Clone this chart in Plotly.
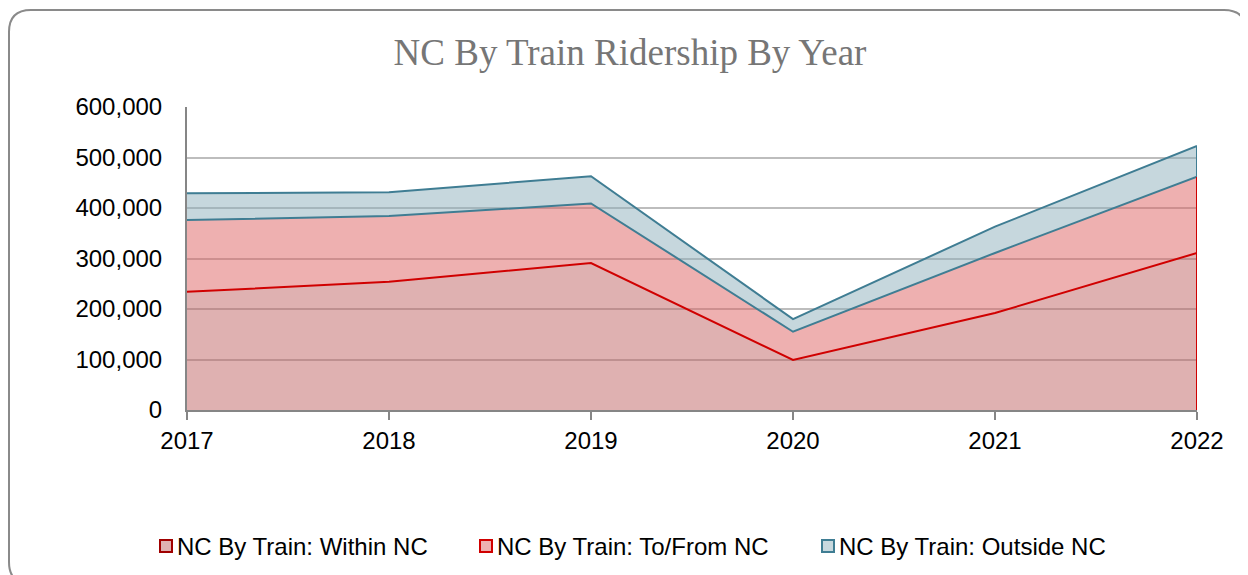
import plotly.graph_objects as go

years = [2017, 2018, 2019, 2020, 2021, 2022]
within_nc = [234000, 254000, 291000, 99000, 192000, 311000]
to_from_nc = [142000, 130000, 118000, 56000, 119000, 151000]
outside_nc = [53000, 47000, 54000, 25000, 52000, 61000]
series_names = ["NC By Train: Within NC", "NC By Train: To/From NC", "NC By Train: Outside NC"]
y_ticks = [0, 100000, 200000, 300000, 400000, 500000, 600000]

fills = ["rgba(191,99,99,0.5)", "rgba(221,97,97,0.5)", "rgba(141,175,187,0.5)"]
lines = ["#d00000", "#3f7d93", "#3f7d93"]
legend_fill = ["#dfb1b1", "#eeb0b0", "#c7d8de"]
legend_line = ["#a00000", "#d00000", "#3f7d93"]

fig = go.Figure()
for name, vals, fc, lc in zip(series_names, [within_nc, to_from_nc, outside_nc], fills, lines):
    fig.add_trace(go.Scatter(
        x=years, y=vals, name=name, mode="lines", stackgroup="one",
        fillcolor=fc, line=dict(color=lc, width=2), showlegend=False,
    ))

# vertical area borders at the last category (Excel draws the series outline)
last = years[-1]
c1 = within_nc[-1]
c2 = c1 + to_from_nc[-1]
c3 = c2 + outside_nc[-1]
fig.add_trace(go.Scatter(x=[last, last], y=[0, c2], mode="lines",
                         line=dict(color="#d00000", width=2), showlegend=False, hoverinfo="skip"))
fig.add_trace(go.Scatter(x=[last, last], y=[c2, c3], mode="lines",
                         line=dict(color="#3f7d93", width=2), showlegend=False, hoverinfo="skip"))

# page body margin offset (8px) -> figure is drawn at (8,8)
OFF = 8
FW, FH = 1248 - OFF, 575 - OFF
# plot area in screen pixels: x 187..1197, y 107..410
L, R, T, B = 187, 1197, 107, 410
W, H = R - L, B - T
def px(x): return (x - L) / W
def py(y): return (B - y) / H

# rounded border (screen pixel coords)
x0, x1, y0, y1, r = 9, 1246, 10, 584, 22
path = (f"M {px(x0)},{py(y0 + r)} L {px(x0)},{py(y1 - r)} Q {px(x0)},{py(y1)} {px(x0 + r)},{py(y1)} "
        f"L {px(x1 - r)},{py(y1)} Q {px(x1)},{py(y1)} {px(x1)},{py(y1 - r)} "
        f"L {px(x1)},{py(y0 + r)} Q {px(x1)},{py(y0)} {px(x1 - r)},{py(y0)} "
        f"L {px(x0 + r)},{py(y0)} Q {px(x0)},{py(y0)} {px(x0)},{py(y0 + r)} Z")
shapes = [dict(type="path", xref="paper", yref="paper", path=path,
               line=dict(color="#8a8a8a", width=2), fillcolor="rgba(0,0,0,0)", layer="below")]

# manual legend
annotations = []
leg_x = [160, 480, 822]
leg_y = 546
for lx, name, fc, lc in zip(leg_x, series_names, legend_fill, legend_line):
    shapes.append(dict(type="rect", xref="paper", yref="paper",
                       x0=px(lx), x1=px(lx + 12), y0=py(leg_y + 6), y1=py(leg_y - 6),
                       fillcolor=fc, line=dict(color=lc, width=2)))
    annotations.append(dict(xref="paper", yref="paper", x=px(lx + 15), y=py(leg_y),
                            xanchor="left", yanchor="middle", showarrow=False, text=name,
                            font=dict(family="Liberation Sans, Arial", size=24, color="#000000")))

fig.update_layout(
    width=FW, height=FH,
    margin=dict(l=L - OFF, r=1248 - R, t=T - OFF, b=575 - B),
    paper_bgcolor="white", plot_bgcolor="white",
    title=dict(text="NC By Train Ridership By Year", x=(630 - OFF) / FW, xanchor="center",
               y=1 - (52 - OFF) / FH, yanchor="middle", yref="container",
               font=dict(family="Liberation Serif, Times New Roman, serif", size=37, color="#767676")),
    xaxis=dict(range=[2017, 2022], tickvals=years, ticktext=[str(y) for y in years],
               showgrid=False, showline=True, linecolor="#868686", linewidth=2,
               ticks="outside", ticklen=8, tickcolor="#868686", tickwidth=2,
               tickfont=dict(family="Liberation Sans, Arial", size=24, color="#000000"),
               zeroline=False, fixedrange=True),
    yaxis=dict(range=[0, 600000], tickvals=y_ticks, tickformat=",",
               showgrid=True, gridcolor="#bdbdbd", gridwidth=2,
               showline=True, linecolor="#868686", linewidth=2, ticks="",
               ticklabelstandoff=18,
               tickfont=dict(family="Liberation Sans, Arial", size=24, color="#000000"),
               zeroline=False, fixedrange=True),
    shapes=shapes, annotations=annotations,
    showlegend=False,
)

fig.write_html("out.html")
